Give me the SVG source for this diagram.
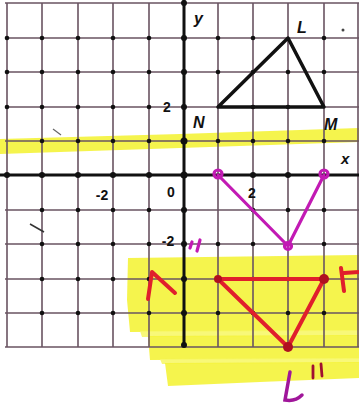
<svg xmlns="http://www.w3.org/2000/svg" width="359" height="413" viewBox="0 0 359 413">
<style>
.grid{stroke:#6a5462;stroke-width:1.6;fill:none}
.axis{stroke:#111;stroke-width:3;fill:none}
.hl{fill:#f4f33a;opacity:0.9}
.hl2{fill:#f7f76a;opacity:0.9}
.lbl{font-family:"Liberation Sans",Arial,sans-serif;font-weight:bold;fill:#111}
.it{font-style:italic}
.mag{stroke:#c21ab4;stroke-width:3.2;fill:none;stroke-linecap:round;stroke-linejoin:round}
.red{stroke:#e01f2c;stroke-width:4;fill:none;stroke-linecap:round;stroke-linejoin:round}
</style>
<rect width="359" height="413" fill="#ffffff"/>
<g id="highlights">
<path class="hl" d="M0,139 L180,134 L359,128 L359,142 L180,148 L0,154 Z"/>
<path class="hl" d="M128,258 L359,255 L359,331 L130,332 L127,300 Z"/>
<path class="hl2" d="M140,331 L359,330 L359,336 L142,337 Z"/>
<path class="hl" d="M148,336 L359,335 L359,359 L150,360 Z"/>
<path class="hl2" d="M160,359 L359,358 L359,363 L162,364 Z"/>
<path class="hl" d="M165,363 L359,362 L359,378 L260,382 L168,386 Z"/>
</g>
<g id="grid">
<path class="grid" d="M7,3V347M42,3V347M78,3V347M113,3V347M149,3V347M218,3V347M253,3V347M288,3V347M324,3V347M358,3V347"/>
<path class="grid" d="M5,3H359M5,38H359M5,72H359M5,107H359M5,141H359M5,210H359M5,244H359M5,279H359M5,313H359M5,347H359"/>
<path class="axis" d="M0,175H359M184,0V347"/>
<g fill="#111">
<circle cx="42" cy="38" r="2.3"/><circle cx="78" cy="38" r="2.3"/><circle cx="113" cy="38" r="2.3"/><circle cx="149" cy="38" r="2.3"/><circle cx="7" cy="38" r="2.3"/>
<circle cx="42" cy="72" r="2.3"/><circle cx="78" cy="72" r="2.3"/><circle cx="113" cy="72" r="2.3"/><circle cx="149" cy="72" r="2.3"/><circle cx="7" cy="72" r="2.3"/>
<circle cx="42" cy="107" r="2.3"/><circle cx="78" cy="107" r="2.3"/><circle cx="113" cy="107" r="2.3"/><circle cx="149" cy="107" r="2.3"/><circle cx="7" cy="107" r="2.3"/>
<circle cx="42" cy="141" r="2.3"/><circle cx="78" cy="141" r="2.3"/><circle cx="113" cy="141" r="2.3"/><circle cx="149" cy="141" r="2.3"/>
<circle cx="218" cy="141" r="2.3"/><circle cx="253" cy="141" r="2.3"/><circle cx="288" cy="141" r="2.3"/><circle cx="324" cy="141" r="2.3"/>
<circle cx="218" cy="38" r="2.3"/><circle cx="253" cy="38" r="2.3"/><circle cx="324" cy="38" r="2.3"/>
<circle cx="218" cy="72" r="2.3"/><circle cx="253" cy="72" r="2.3"/><circle cx="288" cy="72" r="2.3"/><circle cx="324" cy="72" r="2.3"/>
<circle cx="253" cy="107" r="2.3"/><circle cx="288" cy="107" r="2.3"/>
<circle cx="7" cy="175" r="3"/><circle cx="42" cy="175" r="3"/><circle cx="78" cy="175" r="3"/><circle cx="113" cy="175" r="3"/><circle cx="149" cy="175" r="3"/><circle cx="253" cy="175" r="3"/><circle cx="288" cy="175" r="3"/>
<circle cx="184" cy="3" r="3"/><circle cx="184" cy="38" r="3"/><circle cx="184" cy="72" r="3"/><circle cx="184" cy="107" r="3"/><circle cx="184" cy="141" r="3.5"/><circle cx="184" cy="175" r="3.5"/>
<circle cx="184" cy="210" r="3"/><circle cx="184" cy="244" r="3"/><circle cx="184" cy="279" r="3"/><circle cx="184" cy="313" r="3"/><circle cx="184" cy="345" r="3"/>
<circle cx="42" cy="210" r="2.3"/><circle cx="78" cy="210" r="2.3"/><circle cx="113" cy="210" r="2.3"/><circle cx="149" cy="210" r="2.3"/>
<circle cx="42" cy="244" r="2.3"/><circle cx="78" cy="244" r="2.3"/><circle cx="113" cy="244" r="2.3"/><circle cx="149" cy="244" r="2.3"/>
<circle cx="42" cy="279" r="2.3"/><circle cx="78" cy="279" r="2.3"/><circle cx="113" cy="279" r="2.3"/><circle cx="149" cy="279" r="2.3"/>
<circle cx="42" cy="313" r="2.3"/><circle cx="78" cy="313" r="2.3"/><circle cx="113" cy="313" r="2.3"/><circle cx="149" cy="313" r="2.3"/>
<circle cx="253" cy="210" r="2.3"/><circle cx="288" cy="210" r="2.3"/><circle cx="324" cy="210" r="2.3"/>
<circle cx="218" cy="244" r="2.3"/><circle cx="253" cy="244" r="2.3"/><circle cx="324" cy="244" r="2.3"/>
<circle cx="253" cy="279" r="2.3"/><circle cx="288" cy="279" r="2.3"/>
<circle cx="218" cy="313" r="2.3"/><circle cx="253" cy="313" r="2.3"/><circle cx="288" cy="313" r="2.3"/><circle cx="324" cy="313" r="2.3"/>
</g>
</g>
<g id="labels">
<text class="lbl it" x="194" y="24" font-size="16">y</text>
<text class="lbl it" x="341" y="164" font-size="15">x</text>
<text class="lbl" x="102" y="200" font-size="14" text-anchor="middle">-2</text>
<text class="lbl" x="171" y="197" font-size="14" text-anchor="middle">0</text>
<text class="lbl" x="252" y="198" font-size="14" text-anchor="middle">2</text>
<text class="lbl" x="167" y="112" font-size="14" text-anchor="middle">2</text>
<text class="lbl" x="168" y="246" font-size="14" text-anchor="middle">-2</text>
</g>
<g id="triangle-LMN">
<path d="M288,38 L218,107 L324,107 Z" fill="none" stroke="#111" stroke-width="3.5" stroke-linejoin="round"/>
<text class="lbl it" x="297" y="33" font-size="16">L</text>
<text class="lbl it" x="193" y="128" font-size="16">N</text>
<text class="lbl it" x="324" y="130" font-size="16">M</text>
</g>
<g id="triangle-prime">
<path class="mag" d="M218,175 L288,246 L324,175"/>
<circle class="mag" cx="218" cy="174" r="4" stroke-width="2.2"/>
<circle class="mag" cx="324" cy="174" r="4" stroke-width="2.2"/>
<circle class="mag" cx="288" cy="246" r="3.5" stroke-width="2.2"/>
<path class="mag" d="M190,248 L192,242 M197,251 L200,240" stroke-width="2.5"/>
</g>
<g id="triangle-double-prime">
<path class="red" d="M218,279 L324,279 L288,347 L218,279"/>
<circle cx="218" cy="279" r="4" fill="#b01020"/>
<circle cx="324" cy="279" r="5" fill="#b01020"/>
<circle cx="288" cy="347" r="5" fill="#b01020"/>
<path class="red" d="M148,299 L152,272 L175,293" stroke-width="4"/>
<path class="red" d="M341,268 L344,291 M344,273 L359,272" stroke-width="4"/>
<path d="M290,372 L285,400 Q295,402 302,395" stroke="#a0169a" stroke-width="3.5" fill="none" stroke-linecap="round"/>
<path d="M313,366 L313,378 M321,364 L322,376" stroke="#a01030" stroke-width="2.8" fill="none" stroke-linecap="round"/>
</g>
<g id="marks">
<path d="M53,129 L61,135" stroke="#666" stroke-width="1.2"/>
<path d="M30,224 L44,232" stroke="#333" stroke-width="1.6"/>
<circle cx="343" cy="30" r="1.5" fill="#444"/>
</g>
</svg>
